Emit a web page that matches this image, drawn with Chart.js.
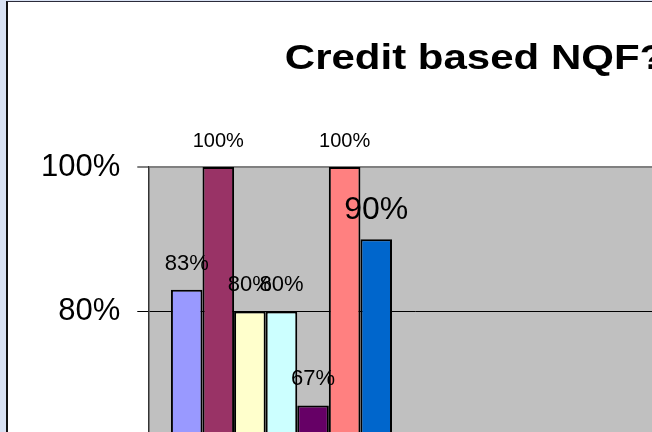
<!DOCTYPE html>
<html>
<head>
<meta charset="utf-8">
<script src="https://cdn.jsdelivr.net/npm/chart.js@4/dist/chart.umd.min.js"></script>
<style>
html, body { margin: 0; padding: 0; width: 652px; height: 432px; overflow: hidden; background: #d9e2f3; }
#sheet { position: absolute; left: 6px; top: 1px; width: 700px; height: 500px; background: #fff; border-left: 2px solid #111; border-top: 1px solid #2b2b3a; }
#chartBox { position: absolute; left: 0; top: 0; }
</style>
</head>
<body>
<div id="sheet"></div>
<div id="chartBox"><canvas id="chart1" width="940" height="925"></canvas></div>
<script>
// データ
var chartTitle = 'Credit based NQF?';
var categories = ['', ''];
var seriesNames = ['Series 1', 'Series 2', 'Series 3', 'Series 4', 'Series 5', 'Series 6', 'Series 7'];
var seriesValues = [83, 100, 80, 80, 67, 100, 90];
var yTicks = [0, 20, 40, 60, 80, 100];

// 見た目
var barColors = ['#9999ff', '#993366', '#ffffcc', '#ccffff', '#660066', '#ff8080', '#0066cc'];
var labelSizes = [22, 20, 22, 22, 22, 20, 32];
var fontFamily = '"Liberation Sans", Arial, sans-serif';

var datasets = seriesValues.map(function(v, i) {
    return {
        label: seriesNames[i],
        data: [v, null],
        backgroundColor: barColors[i],
        borderColor: '#000',
        borderWidth: 2,
        borderSkipped: false,
        categoryPercentage: 0.83,
        barPercentage: 1
    };
});

// グラフ領域の背景（グレー）
var plotBg = {
    id: 'plotBg',
    beforeDraw: function(chart) {
        var a = chart.chartArea, ctx = chart.ctx;
        ctx.save();
        ctx.fillStyle = '#c0c0c0';
        ctx.fillRect(a.left, a.top, a.right - a.left, a.bottom - a.top);
        ctx.restore();
    }
};

// 棒の上の値ラベル
var barLabels = {
    id: 'barLabels',
    afterDatasetsDraw: function(chart) {
        var ctx = chart.ctx;
        ctx.save();
        ctx.fillStyle = '#000';
        ctx.textAlign = 'center';
        ctx.textBaseline = 'alphabetic';
        chart.data.datasets.forEach(function(ds, i) {
            var meta = chart.getDatasetMeta(i);
            meta.data.forEach(function(bar, j) {
                var v = ds.data[j];
                if (v == null) return;
                ctx.font = labelSizes[i] + 'px ' + fontFamily;
                ctx.fillText(v + '%', bar.x, bar.y - 20);
            });
        });
        ctx.restore();
    }
};

// タイトル（横に少し広げて描く）
var wideTitle = {
    id: 'wideTitle',
    afterDraw: function(chart) {
        var ctx = chart.ctx;
        ctx.save();
        ctx.font = 'bold 35px ' + fontFamily;
        ctx.fillStyle = '#000';
        ctx.textAlign = 'center';
        ctx.textBaseline = 'alphabetic';
        ctx.translate(475, 69);
        ctx.scale(1.2, 1);
        ctx.fillText(chartTitle, 0, 0);
        ctx.restore();
    }
};

var ctx = document.getElementById('chart1').getContext('2d');
var chart = new Chart(ctx, {
    type: 'bar',
    data: { labels: categories, datasets: datasets },
    plugins: [plotBg, barLabels, wideTitle],
    options: {
        responsive: false,
        animation: false,
        layout: { padding: { left: 24, top: 167, right: 259, bottom: 13 } },
        plugins: {
            legend: { display: false },
            title: { display: false },
            tooltip: { enabled: false }
        },
        scales: {
            x: { display: false },
            y: {
                min: 0,
                max: 100,
                afterBuildTicks: function(scale) {
                    scale.ticks = yTicks.map(function(v) { return { value: v }; });
                },
                ticks: {
                    color: '#000',
                    padding: 17,
                    font: { family: fontFamily, size: 31 },
                    callback: function(v) { return v + '%'; }
                },
                grid: {
                    tickLength: 11,
                    color: function(c) { return c.tick && c.tick.value === 100 ? '#808080' : '#000'; },
                    lineWidth: function(c) { return c.tick && c.tick.value === 100 ? 2 : 1; }
                },
                border: { color: '#333', width: 1.5 }
            }
        }
    }
});
</script>
</body>
</html>
